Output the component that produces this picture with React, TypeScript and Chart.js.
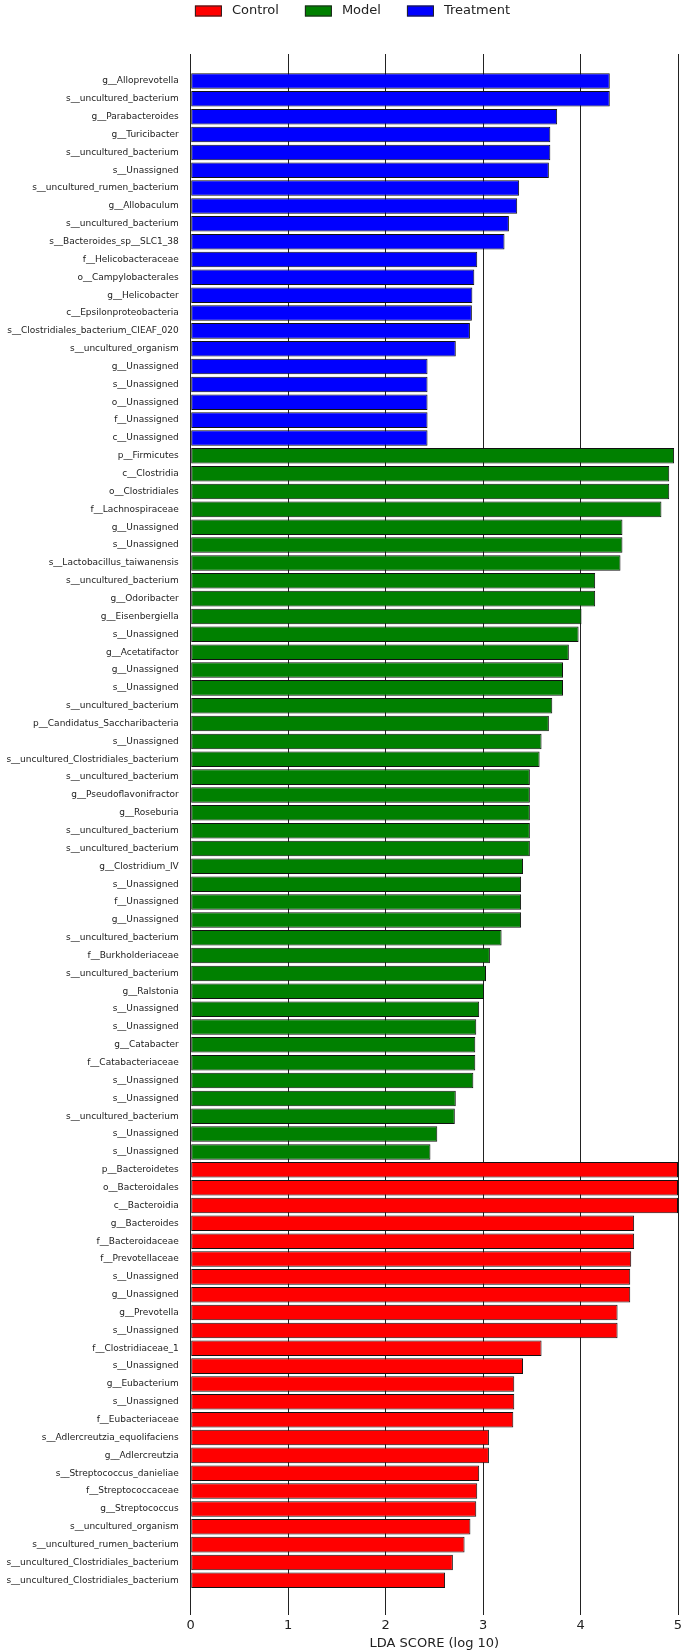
import React, { useEffect, useRef } from "react";
import { Chart, registerables } from "chart.js";

Chart.register(...registerables);

const treatmentLabels = [
  "g__Alloprevotella", "s__uncultured_bacterium", "g__Parabacteroides", "g__Turicibacter",
  "s__uncultured_bacterium", "s__Unassigned", "s__uncultured_rumen_bacterium", "g__Allobaculum",
  "s__uncultured_bacterium", "s__Bacteroides_sp__SLC1_38", "f__Helicobacteraceae", "o__Campylobacterales",
  "g__Helicobacter", "c__Epsilonproteobacteria", "s__Clostridiales_bacterium_CIEAF_020", "s__uncultured_organism",
  "g__Unassigned", "s__Unassigned", "o__Unassigned", "f__Unassigned", "c__Unassigned",
];
const treatmentValues = [
  4.30, 4.30, 3.76, 3.69, 3.69, 3.675, 3.37, 3.35, 3.265, 3.22, 2.94, 2.91, 2.89, 2.885, 2.865, 2.72,
  2.43, 2.43, 2.43, 2.43, 2.43,
];

const modelLabels = [
  "p__Firmicutes", "c__Clostridia", "o__Clostridiales", "f__Lachnospiraceae", "g__Unassigned",
  "s__Unassigned", "s__Lactobacillus_taiwanensis", "s__uncultured_bacterium", "g__Odoribacter",
  "g__Eisenbergiella", "s__Unassigned", "g__Acetatifactor", "g__Unassigned", "s__Unassigned",
  "s__uncultured_bacterium", "p__Candidatus_Saccharibacteria", "s__Unassigned",
  "s__uncultured_Clostridiales_bacterium", "s__uncultured_bacterium", "g__Pseudoflavonifractor",
  "g__Roseburia", "s__uncultured_bacterium", "s__uncultured_bacterium", "g__Clostridium_IV",
  "s__Unassigned", "f__Unassigned", "g__Unassigned", "s__uncultured_bacterium", "f__Burkholderiaceae",
  "s__uncultured_bacterium", "g__Ralstonia", "s__Unassigned", "s__Unassigned", "g__Catabacter",
  "f__Catabacteriaceae", "s__Unassigned", "s__Unassigned", "s__uncultured_bacterium", "s__Unassigned",
  "s__Unassigned",
];
const modelValues = [
  4.96, 4.91, 4.91, 4.83, 4.43, 4.43, 4.41, 4.15, 4.15, 4.01, 3.98, 3.88, 3.82, 3.82, 3.71, 3.675,
  3.60, 3.58, 3.48, 3.48, 3.48, 3.48, 3.48, 3.41, 3.39, 3.39, 3.39, 3.19, 3.07, 3.03, 3.01, 2.96,
  2.93, 2.92, 2.92, 2.90, 2.72, 2.71, 2.53, 2.46,
];

const controlLabels = [
  "p__Bacteroidetes", "o__Bacteroidales", "c__Bacteroidia", "g__Bacteroides", "f__Bacteroidaceae",
  "f__Prevotellaceae", "s__Unassigned", "g__Unassigned", "g__Prevotella", "s__Unassigned",
  "f__Clostridiaceae_1", "s__Unassigned", "g__Eubacterium", "s__Unassigned", "f__Eubacteriaceae",
  "s__Adlercreutzia_equolifaciens", "g__Adlercreutzia", "s__Streptococcus_danieliae",
  "f__Streptococcaceae", "g__Streptococcus", "s__uncultured_organism", "s__uncultured_rumen_bacterium",
  "s__uncultured_Clostridiales_bacterium", "s__uncultured_Clostridiales_bacterium",
];
const controlValues = [
  5.0, 5.0, 5.0, 4.55, 4.55, 4.52, 4.51, 4.51, 4.38, 4.38, 3.60, 3.41, 3.32, 3.32, 3.31, 3.06, 3.06,
  2.96, 2.94, 2.93, 2.87, 2.81, 2.69, 2.61,
];

const xTicks = [0, 1, 2, 3, 4, 5];
const axisTitle = "LDA SCORE (log 10)";

const allLabels = [...treatmentLabels, ...modelLabels, ...controlLabels];

function toPoints(values: number[], offset: number) {
  return values.map((v, i) => ({ x: v, y: i + offset }));
}

const legendPlugin = {
  id: "topLegend",
  afterDraw(chart: any) {
    const ctx = chart.ctx;
    const ds = chart.data.datasets;
    ctx.save();
    ctx.font = '13px "DejaVu Sans"';
    const boxW = 27, boxH = 11, gap = 10, itemGap = 26;
    const widths = ds.map((d: any) => ctx.measureText(d.label).width);
    const total = widths.reduce((a: number, b: number) => a + b, 0) + ds.length * (boxW + gap) + (ds.length - 1) * itemGap;
    let x = 352.5 - total / 2;
    const cy = 11;
    ds.forEach((d: any, i: number) => {
      ctx.fillStyle = d.backgroundColor;
      ctx.fillRect(x, cy - boxH / 2, boxW, boxH);
      ctx.strokeStyle = "#222";
      ctx.lineWidth = 1;
      ctx.strokeRect(x + 0.5, cy - boxH / 2 + 0.5, boxW - 1, boxH - 1);
      ctx.fillStyle = "#222";
      ctx.textBaseline = "middle";
      ctx.textAlign = "left";
      ctx.fillText(d.label, x + boxW + gap, cy);
      x += boxW + gap + widths[i] + itemGap;
    });
    ctx.restore();
  },
};

export default function App() {
  const ref = useRef<HTMLCanvasElement>(null);
  useEffect(() => {
    if (!ref.current) return;
    const nT = treatmentLabels.length;
    const nM = modelLabels.length;
    const common = {
      borderColor: "#111",
      borderWidth: 1,
      borderSkipped: false,
      grouped: false,
      barPercentage: 1,
      categoryPercentage: 0.87,
    };
    const chart = new Chart(ref.current, {
      type: "bar",
      data: {
        datasets: [
          { label: "Control", data: toPoints(controlValues, nT + nM), backgroundColor: "#ff0000", ...common },
          { label: "Model", data: toPoints(modelValues, nT), backgroundColor: "#008000", ...common },
          { label: "Treatment", data: toPoints(treatmentValues, 0), backgroundColor: "#0000ff", ...common },
        ] as any,
      },
      options: {
        indexAxis: "y",
        animation: false,
        responsive: true,
        maintainAspectRatio: false,
        layout: { padding: { top: 54, left: 0, right: 8, bottom: 0 } },
        plugins: { legend: { display: false }, tooltip: { enabled: false } },
        scales: {
          x: {
            type: "linear",
            position: "bottom",
            min: 0,
            max: 5,
            z: 1,
            afterBuildTicks: (scale: any) => {
              scale.ticks = xTicks.map((v) => ({ value: v }));
            },
            ticks: {
              font: { family: "DejaVu Sans", size: 13 },
              color: "#222",
              padding: 3,
            },
            grid: { color: "#222", lineWidth: 1, drawTicks: true, tickLength: 5 },
            border: { display: false },
            title: {
              display: true,
              text: axisTitle,
              font: { family: "DejaVu Sans", size: 13 },
              color: "#222",
              padding: { top: 2, bottom: 1 },
            },
            afterFit: (scale: any) => {
              scale.height = 42;
            },
          },
          y: {
            type: "linear",
            reverse: true,
            min: -1,
            max: 85.15,
            afterBuildTicks: (scale: any) => {
              scale.ticks = allLabels.map((_, i) => ({ value: i }));
            },
            ticks: {
              autoSkip: false,
              callback: (v: any) => allLabels[v] ?? "",
              font: { family: "DejaVu Sans", size: 9 },
              color: "#222",
              padding: 12,
            },
            grid: { display: false, drawTicks: false },
            border: { display: false },
            afterFit: (scale: any) => {
              scale.width = 190.7;
              scale.paddingTop = 0;
              scale.paddingBottom = 0;
            },
          },
        },
      } as any,
      plugins: [legendPlugin],
    });
    return () => chart.destroy();
  }, []);
  return (
    <div style={{ position: "absolute", left: 0, top: 0, width: 686, height: 1652, background: "#fff" }}>
      <canvas ref={ref} />
    </div>
  );
}
